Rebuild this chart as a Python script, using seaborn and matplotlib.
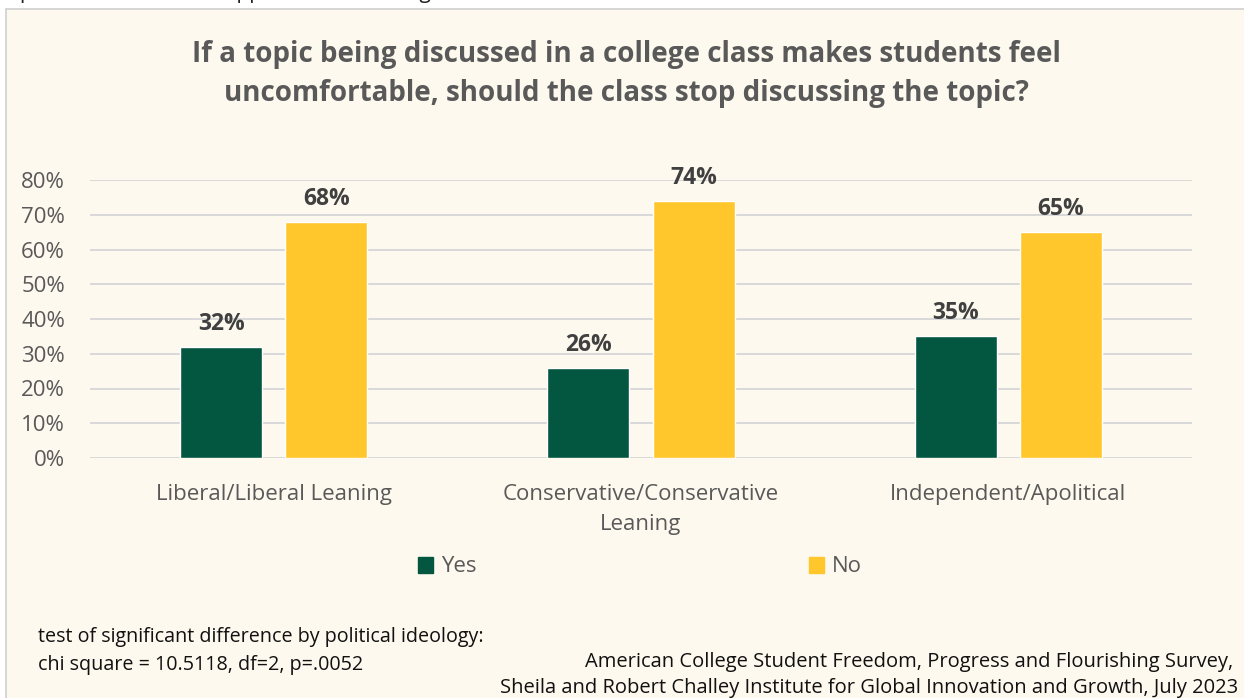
import matplotlib
matplotlib.use("Agg")
import matplotlib.pyplot as plt
import matplotlib.font_manager as fm
from matplotlib.patches import Rectangle
import seaborn as sns
import pandas as pd

# Survey responses by political ideology
groups = ["Liberal/Liberal Leaning", "Conservative/Conservative\nLeaning", "Independent/Apolitical"]
yes_pct = [32, 26, 35]
no_pct = [68, 74, 65]
answers = ["Yes", "No"]
yticks = [0, 10, 20, 30, 40, 50, 60, 70, 80]

title = ("If a topic being discussed in a college class makes students feel\n"
         "uncomfortable, should the class stop discussing the topic?")
note_left = ("test of significant difference by political ideology:\n"
             "chi square = 10.5118, df=2, p=.0052")
source_1 = "American College Student Freedom, Progress and Flourishing Survey,"
source_2 = "Sheila and Robert Challey Institute for Global Innovation and Growth, July 2023"
caption_above = "topics that would be dropped due to making students uncomfortable"

df = pd.DataFrame({
    "group": groups * 2,
    "answer": ["Yes"] * 3 + ["No"] * 3,
    "pct": yes_pct + no_pct,
})

GREEN = "#03563F"
GOLD = "#FFC72C"
CREAM = "#FEF9EE"
GRID = "#D9D9D9"
TICK = "#595959"
LABEL = "#404040"

sns.set_theme(style="white")
names = {f.name for f in fm.fontManager.ttflist}
base = "Open Sans" if "Open Sans" in names else "DejaVu Sans"
plt.rcParams["font.family"] = [base, "DejaVu Sans"]

fig = plt.figure(figsize=(12.44, 6.98), dpi=100)
fig.patch.set_facecolor("white")

# chart frame
fig.patches.append(Rectangle((6 / 1244, -0.01), 1, 1 - 9 / 698 + 0.01,
                             transform=fig.transFigure, facecolor=CREAM,
                             edgecolor="#D0D0D0", linewidth=1.2, zorder=-5))
fig.text(0.0, 1.0 + 0.011, caption_above, ha="left", va="center",
         fontsize=15, color="#222222", zorder=-4)

ax = fig.add_axes([90 / 1244, 1 - 458 / 698, 1102 / 1244, 278 / 698], zorder=2)
ax.set_facecolor("none")

sns.barplot(data=df, x="group", y="pct", hue="answer", hue_order=answers,
            palette={"Yes": GREEN, "No": GOLD}, order=groups,
            width=0.572, gap=0.219, saturation=1, ax=ax, legend=False,
            errorbar=None, zorder=3)

for cont in ax.containers:
    ax.bar_label(cont, labels=[f"{v:.0f}%" for v in cont.datavalues],
                 padding=8, fontsize=16.5, fontweight="bold", color=LABEL)

ax.set_ylim(0, 80)
ax.set_yticks(yticks)
ax.set_yticklabels([f"{t}%" for t in yticks])
ax.set_xlim(-0.5, 2.5)
ax.yaxis.grid(True, color=GRID, linewidth=1.4, zorder=0)
ax.set_axisbelow(True)
for s in ax.spines.values():
    s.set_visible(False)
ax.tick_params(axis="y", length=0, pad=18, labelsize=16, labelcolor=TICK)
ax.tick_params(axis="x", length=0, pad=19, labelsize=16, labelcolor=TICK)
for lbl in ax.get_xticklabels():
    lbl.set_linespacing(1.55)
ax.set_xlabel("")
ax.set_ylabel("")

fig.text(626 / 1244, 1 - 74 / 698, title, ha="center", va="center",
         fontsize=20, fontweight="bold", color=TICK, linespacing=1.45)

handles = [Rectangle((0, 0), 1, 1, color=GREEN), Rectangle((0, 0), 1, 1, color=GOLD)]
fig.legend(handles, answers, loc="center", bbox_to_anchor=(640 / 1244, 1 - 567 / 698),
           ncol=2, frameon=False, fontsize=16, labelcolor=TICK,
           handlelength=0.7, handleheight=0.7, handletextpad=0.35,
           columnspacing=14.95)

fig.text(38 / 1244, 1 - 651 / 698, note_left, ha="left", va="center",
         fontsize=14.2, color="#111111", linespacing=1.5)
fig.text(1233 / 1244, 1 - 662 / 698, source_1, ha="right", va="center",
         fontsize=14.5, color="#111111")
fig.text(1238 / 1244, 1 - 688 / 698, source_2, ha="right", va="center",
         fontsize=14.5, color="#111111")

fig.savefig("out.png", dpi=100, facecolor=fig.get_facecolor())
